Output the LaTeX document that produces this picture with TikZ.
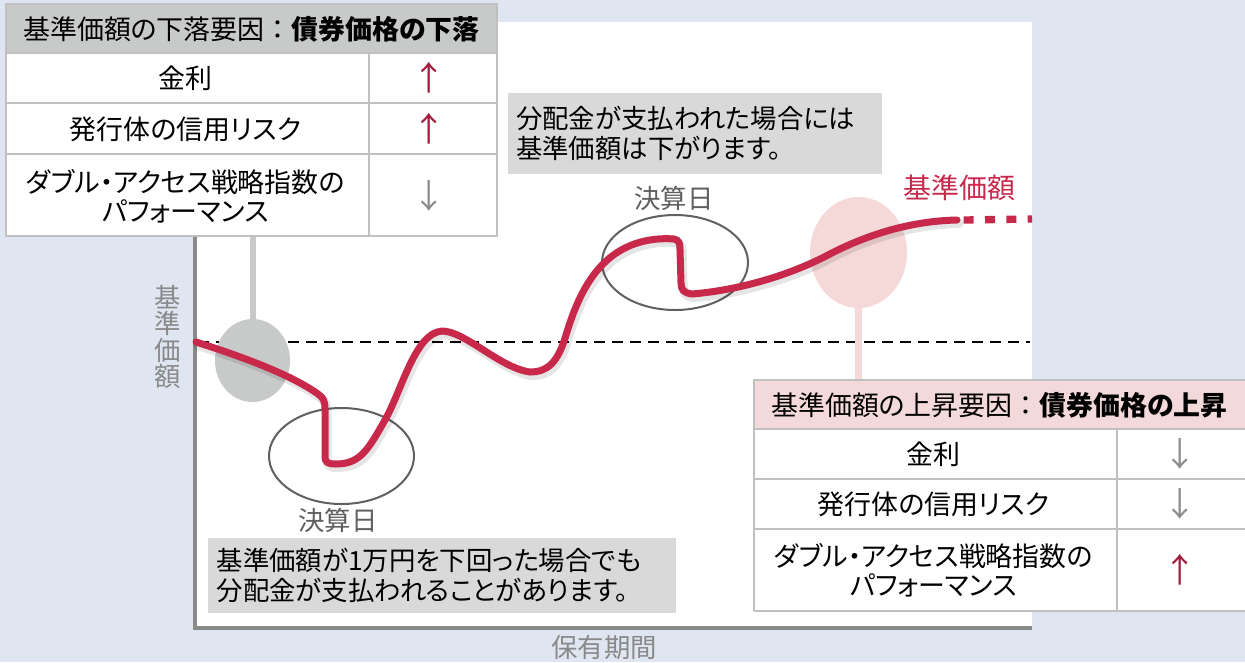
\documentclass[tikz,border=0pt]{standalone}
\usepackage{fontspec}
\usetikzlibrary{shapes.geometric}
\setmainfont{Noto Sans CJK JP}[RawFeature=+palt]
\newfontfamily\jpfull{Noto Sans CJK JP}
\definecolor{bgblue}{RGB}{223,230,241}
\definecolor{hdrgray}{RGB}{200,201,201}
\definecolor{hdrpink}{RGB}{244,217,218}
\definecolor{curvered}{RGB}{200,41,74}
\definecolor{arrred}{RGB}{160,30,60}
\definecolor{arrgray}{RGB}{140,140,140}
\definecolor{boxgray}{RGB}{217,217,217}
\definecolor{axisgray}{RGB}{137,137,137}
\definecolor{linegray}{RGB}{192,192,192}
\definecolor{ellgray}{RGB}{96,96,96}
\definecolor{labelgray}{RGB}{95,95,95}
\definecolor{pinkfill}{RGB}{245,217,217}
\definecolor{grayfill}{RGB}{200,201,201}
\def\curvepath{(196,342) .. controls (240,356) and (290,374) .. (318,394)
  .. controls (324,398) and (325,402) .. (325,410) -- (325,456)
  .. controls (325,463) and (328,464) .. (336,464)
  .. controls (360,464) and (368,450) .. (385,420)
  .. controls (402,390) and (415,333) .. (442,331)
  .. controls (465,331) and (500,368) .. (530,372)
  .. controls (548,372) and (558,362) .. (566,335)
  .. controls (578,295) and (595,262) .. (627,247)
  .. controls (644,239) and (662,238) .. (674,239)
  .. controls (679,240) and (680,243) .. (680,250) -- (681,283)
  .. controls (681,290) and (684,293) .. (692,294)
  .. controls (740,290) and (790,275) .. (828,255)
  .. controls (866,235) and (910,221) .. (957,220)}
\begin{document}
\begin{tikzpicture}[x=0.75pt,y=-0.75pt,
  every node/.style={inner sep=0pt, outer sep=0pt},
  tabtxt/.style={font=\fontsize{20.2}{22}\selectfont, align=center, text=black},
  arrtxt/.style={font=\jpfull\fontsize{25}{25}\selectfont},
  tabline/.style={draw=linegray, line width=1.5pt},
  axisline/.style={draw=axisgray, line width=3pt},
  dashline/.style={draw=black, line width=1.5pt, dash pattern=on 8.5pt off 5pt},
  outline/.style={draw=ellgray, line width=1.5pt},
  redcurve/.style={draw=curvered, line width=5.25pt, line cap=round, line join=round},
  shadowcurve/.style={draw=black, opacity=0.10, line width=7pt, line cap=round, line join=round},
  calltxt/.style={font=\fontsize{19.8}{22.2}\selectfont, align=left, text=black},
  graylabel/.style={font=\fontsize{19.8}{20}\selectfont, text=labelgray}
]
\useasboundingbox (0,0) rectangle (1245,662);
\clip (0,0) rectangle (1245,662);
\fill[bgblue] (0,0) rectangle (1245,662);
\fill[white] (195,22) rectangle (1032,628);
\draw[axisline] (195,22) -- (195,628) -- (1032,628);
\draw[dashline] (198,342) -- (1030,342);

% ellipses
\node (gE) [ellipse, fill=grayfill, minimum width=56.25pt, minimum height=62.25pt] at (252.5,360.5) {};
\node (pE) [ellipse, fill=pinkfill, minimum width=72.75pt, minimum height=83.25pt] at (858.5,252.5) {};
\node (e1) [ellipse, outline, minimum width=108.75pt, minimum height=72pt] at (341.5,456) {};
\node (e2) [ellipse, outline, minimum width=109.5pt, minimum height=71.25pt] at (675,262.5) {};

% tables (frames)
\node (lt) [rectangle, minimum width=368.25pt, minimum height=174pt, anchor=north west] at (6,4) {};
\node (rt) [rectangle, minimum width=372pt, minimum height=173.25pt, anchor=north west] at (754,380) {};

% connectors
\draw[draw=grayfill, line width=4.5pt] (gE.north) -- (gE.north |- lt.south);
\draw[draw=pinkfill, line width=5.25pt] (pE.south) -- (pE.south |- rt.north);

% curve
\path[shadowcurve, transform canvas={shift={(1.5pt,-2.5pt)}}] \curvepath;
\path[redcurve] \curvepath;
\coordinate (cEnd) at (957,220);
\coordinate (cTail) at (1032,219);
\draw[draw=curvered, line width=5.5pt, dash pattern=on 7.5pt off 8.5pt] ([xshift=5pt]cEnd) -- (cTail);

% left table
\fill[white] (6,4) rectangle (497,236);
\fill[hdrgray] (6,4) rectangle (497,53);
\draw[tabline] (6,4) rectangle (497,236);
\draw[tabline] (6,53) -- (497,53) (6,103) -- (497,103) (6,154) -- (497,154) (369,53) -- (369,236);
\node[tabtxt] (lh) at (251.5,29) {基準価額の下落要因{\jpfull ：}\textbf{債券価格の下落}};
\node[tabtxt] (l1) at (185.5,78) {金利};
\node[tabtxt] (l2) at (185.5,129) {発行体の信用リスク};
\node[tabtxt] (l3) at (185.5,196) {ダブル・アクセス戦略指数の\\[0pt]パフォーマンス};
\node[arrtxt, text=arrred] (la1) at (429,78) {↑};
\node[arrtxt, text=arrred] (la2) at (429,129) {↑};
\node[arrtxt, text=arrgray] (la3) at (429,196) {↓};

% right table
\fill[white] (754,380) rectangle (1250,611);
\fill[hdrpink] (754,380) rectangle (1250,429);
\draw[tabline] (754,611) -- (754,380) -- (1250,380) (754,611) -- (1250,611);
\draw[tabline] (754,429) -- (1250,429) (754,479) -- (1250,479) (754,529) -- (1250,529) (1117,429) -- (1117,611);
\node[tabtxt] (rh) at (999.5,405) {基準価額の上昇要因{\jpfull ：}\textbf{債券価格の上昇}};
\node[tabtxt] (r1) at (933.5,454) {金利};
\node[tabtxt] (r2) at (933.5,504) {発行体の信用リスク};
\node[tabtxt] (r3) at (933.5,570) {ダブル・アクセス戦略指数の\\[0pt]パフォーマンス};
\node[arrtxt, text=arrgray] (ra1) at (1180,454) {↓};
\node[arrtxt, text=arrgray] (ra2) at (1180,504) {↓};
\node[arrtxt, text=arrred] (ra3) at (1180,570) {↑};

% callouts
\node (c1) [fill=boxgray, minimum width=280.5pt, minimum height=60.75pt, anchor=north west] at (508,93) {};
\node[calltxt, anchor=west] (c1t) at ([xshift=6pt]c1.west) {分配金が支払われた場合には\\基準価額は下がります。};
\node (c2) [fill=boxgray, minimum width=351pt, minimum height=56.25pt, anchor=north west] at (208,538) {};
\node[calltxt, anchor=west] (c2t) at ([xshift=6.5pt]c2.west) {基準価額が1万円を下回った場合でも\\分配金が支払われることがあります。};

% labels
\node[graylabel] (d1) at (338,520) {決算日};
\node[graylabel] (d2) at (674,198) {決算日};
\node[font=\fontsize{21}{21}\selectfont, text=curvered] (nav) at (959,188) {基準価額};
\node[font=\fontsize{19.8}{19.9}\selectfont, text=axisgray, align=center] (ylab) at (168,337) {基\\準\\価\\額};
\node[font=\fontsize{19.8}{20}\selectfont, text=axisgray] (xlab) at (604,648) {保有期間};
\end{tikzpicture}
\end{document}
